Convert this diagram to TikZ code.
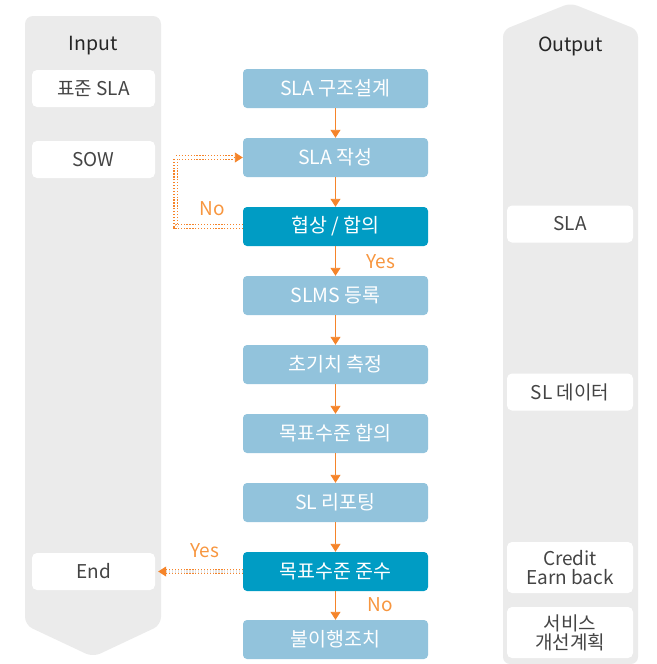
\documentclass[tikz,border=0pt]{standalone}
\usepackage{fontspec}
\setmainfont{Noto Sans CJK KR}
\usetikzlibrary{arrows.meta}
\definecolor{lblue}{HTML}{92C3DC}
\definecolor{dblue}{HTML}{009CC4}
\definecolor{orng}{HTML}{F5842A}
\definecolor{orngtxt}{HTML}{F7963F}
\definecolor{colgray}{HTML}{EBEBEB}
\definecolor{txtgray}{HTML}{444444}
\tikzset{
  base/.style={font=\fontsize{19}{19}\selectfont, inner sep=0pt, align=center},
  procbox/.style={base, font=\fontsize{19.5}{20}\selectfont, fill=lblue, text=white, rounded corners=4pt, minimum width=185pt, minimum height=39pt},
  decbox/.style={procbox, fill=dblue},
  sidebox/.style={base, fill=white, text=txtgray, rounded corners=5pt, minimum height=37pt},
  inbox/.style={sidebox, minimum width=123pt},
  outbox/.style={sidebox, minimum width=126pt},
  coltitle/.style={base, font=\fontsize{19.5}{20}\selectfont, text=black!85},
  lbl/.style={base, text=orngtxt},
  flow/.style={draw=orng, line width=0.9pt, -{Triangle[width=10pt,length=8pt]}},
  dotline/.style={draw=orng, line width=1.2pt, dash pattern=on 1.3pt off 1.6pt, double=white, double distance=2.4pt},
  dotlineg/.style={dotline, double=black!10},
  tiponly/.style={draw=orng, line width=0.9pt, -{Triangle[width=10pt,length=8pt]}}
}
\begin{document}
\begin{tikzpicture}[x=1pt,y=-1pt]
\useasboundingbox (0,0) rectangle (656,664);
% columns
\fill[colgray, rounded corners=8pt] (25,16) -- (161,16) -- (161,625) -- (93,657) -- (25,625) -- cycle;
\fill[colgray, rounded corners=7pt] (503,664) -- (503,30) -- (570.5,3) -- (638,30) -- (638,664) -- cycle;
\node[coltitle] (tin) at (93,46) {Input};
\node[coltitle] (tout) at (570.5,46) {Output};
% center process
\node[procbox] (p1) at (335.5,88.5) {SLA 구조설계};
\node[procbox] (p2) at (335.5,157.5) {SLA 작성};
\node[decbox] (p3) at (335.5,226.5) {협상 / 합의};
\node[procbox] (p4) at (335.5,295.5) {SLMS 등록};
\node[procbox] (p5) at (335.5,364.5) {초기치 측정};
\node[procbox] (p6) at (335.5,433.5) {목표수준 합의};
\node[procbox] (p7) at (335.5,502.5) {SL 리포팅};
\node[decbox] (p8) at (335.5,571.5) {목표수준 준수};
\node[procbox] (p9) at (335.5,639.5) {불이행조치};
% inputs
\node[inbox] (i1) at (93.5,88.5) {표준 SLA};
\node[inbox] (i2) at (93.5,159.5) {SOW};
\node[inbox] (i3) at (93.5,571.5) {End};
% outputs
\node[outbox] (o1) at (570,224) {SLA};
\node[outbox] (o2) at (570,392) {SL 데이터};
\node[outbox, minimum height=51pt] (o3) at (570,567.5) {Credit\\Earn back};
\node[outbox, minimum height=51pt] (o4) at (570,632.5) {서비스\\개선계획};
% arrows
\foreach \a/\b in {p1/p2,p2/p3,p3/p4,p4/p5,p5/p6,p6/p7,p7/p8,p8/p9}
  \draw[flow] (\a.south) -- (\b.north);
% No loop
\coordinate (lp) at ([xshift=-9pt]p2.west);
\draw[dotline] (p3.west) -- ++(-67,0) |- (lp);
\draw[tiponly] (lp) -- (p2.west);
\node[lbl] (no1) at (212,209) {No};
\node[lbl] (yes1) at (381,262) {Yes};
% Yes to End
\coordinate (le) at ([xshift=9pt]i3.east);
\draw[dotlineg] (p8.west) -- (le);
\draw[tiponly] (le) -- ([xshift=3pt]i3.east);
\node[lbl] (yes2) at (205,551) {Yes};
\node[lbl] (no2) at (380,605) {No};
\end{tikzpicture}
\end{document}
